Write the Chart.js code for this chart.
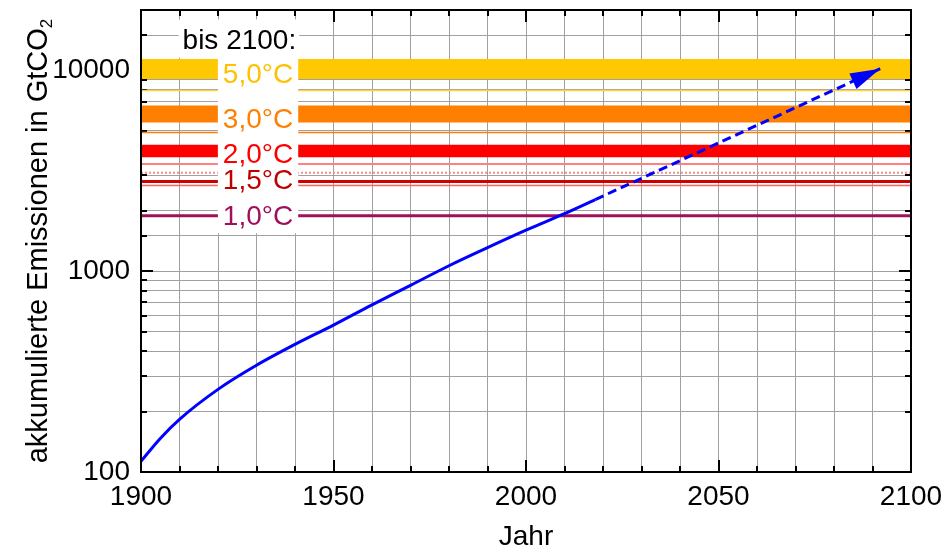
<!DOCTYPE html>
<html>
<head>
<meta charset="utf-8">
<script src="https://cdn.jsdelivr.net/npm/chart.js@4"></script>
<style>
  body { margin: 0; background: #fff; }
  canvas { display: block; }
</style>
</head>
<body>
<canvas id="emissionsChart" width="948" height="552"></canvas>
<script>
// historische kumulierte Emissionen (GtCO2)
const histYears = [1900, 1905, 1910, 1920, 1930, 1940, 1950, 1960, 1970, 1980, 1990, 2000, 2010, 2018];
const histEmissions = [113, 147, 183, 258, 340, 432, 539, 680, 850, 1065, 1310, 1600, 1936, 2274];

// Projektion (gestrichelter Pfeil)
const projYears = [2018, 2092];
const projEmissions = [2274, 10200];

// Budgets bis 2100: breite Bänder
const bandLow = [9060, 5510, 3690];
const bandHigh = [11400, 6680, 4270];
const bandColors = ["#FFC800", "#FF8000", "#FF0000"];

// dünne Linien
const lineLevels = [7950, 4910, 3420, 3090, 2800, 2670, 1890];

// Beschriftung
const tempLabels = ["5,0°C", "3,0°C", "2,0°C", "1,5°C", "1,0°C"];
const tempLabelLevels = [9660, 5800, 3860, 2870, 1900];
const tempColors = ["#FFC000", "#FF8000", "#FF0000", "#C00000", "#A0105A"];

const xMin = 1900, xMax = 2100;
const yMin = 100, yMax = 20000;

const FONT = "'Liberation Sans', Arial, sans-serif";

const flat = (v) => [{ x: xMin, y: v }, { x: xMax, y: v }];

const lineStyles = [
  { color: "#FFD040", width: 1.5 },
  { color: "#FF8000", width: 1.5 },
  { color: "#FF8080", width: 2 },
  { color: "#F09090", width: 2, dash: [2, 2] },
  { color: "#CC0000", width: 3 },
  { color: "#FF6060", width: 1.5 },
  { color: "#A0105A", width: 3 },
];

const datasets = [
  {
    data: histYears.map((yr, i) => ({ x: yr, y: histEmissions[i] })),
    borderColor: "#0000FF",
    borderWidth: 3,
    pointRadius: 0,
    cubicInterpolationMode: "monotone",
    fill: false,
  },
  {
    data: projYears.map((yr, i) => ({ x: yr, y: projEmissions[i] })),
    borderColor: "#0000FF",
    borderWidth: 3,
    borderDash: [9, 5],
    pointRadius: 0,
    fill: false,
  },
];

lineLevels.forEach((v, i) => {
  const s = lineStyles[i];
  datasets.push({
    data: flat(v),
    borderColor: s.color,
    borderWidth: s.width,
    borderDash: s.dash || [],
    pointRadius: 0,
    fill: false,
  });
});

bandHigh.forEach((v, i) => {
  datasets.push({
    data: flat(v),
    borderWidth: 0,
    borderColor: bandColors[i],
    backgroundColor: bandColors[i],
    pointRadius: 0,
    fill: { value: bandLow[i] },
  });
});

const isDecade = (v) => Math.abs(Math.log10(v) - Math.round(Math.log10(v))) < 1e-9;

const noPad = (s) => {
  s.paddingTop = 0;
  s.paddingBottom = 0;
  s.paddingLeft = 0;
  s.paddingRight = 0;
};

const tickMarks = {
  id: "tickMarks",
  beforeDatasetsDraw(chart) {
    const { ctx, chartArea: a, scales: { x, y } } = chart;
    ctx.save();
    ctx.strokeStyle = "#000";
    ctx.lineWidth = 2;
    ctx.beginPath();
    x.ticks.forEach((t) => {
      const px = Math.round(x.getPixelForValue(t.value));
      const len = t.value % 50 === 0 ? 12 : 6;
      ctx.moveTo(px, a.bottom);
      ctx.lineTo(px, a.bottom - len);
      ctx.moveTo(px, a.top);
      ctx.lineTo(px, a.top + len);
    });
    y.ticks.forEach((t) => {
      const py = Math.round(y.getPixelForValue(t.value));
      const len = isDecade(t.value) ? 12 : 6;
      ctx.moveTo(a.left, py);
      ctx.lineTo(a.left + len, py);
      ctx.moveTo(a.right, py);
      ctx.lineTo(a.right - len, py);
    });
    ctx.stroke();
    ctx.restore();
  },
};

const overlay = {
  id: "overlay",
  afterDatasetsDraw(chart) {
    const { ctx, chartArea: a, scales: { x, y } } = chart;
    ctx.save();

    // Pfeilspitze am Ende der Projektion
    const pts = chart.getDatasetMeta(1).data;
    const p1 = pts[pts.length - 2], p2 = pts[pts.length - 1];
    const ang = Math.atan2(p2.y - p1.y, p2.x - p1.x);
    ctx.save();
    ctx.translate(p2.x, p2.y);
    ctx.rotate(ang);
    ctx.fillStyle = "#0000FF";
    ctx.beginPath();
    ctx.moveTo(0, 0);
    ctx.lineTo(-30, -8.5);
    ctx.lineTo(-30, 8.5);
    ctx.closePath();
    ctx.fill();
    ctx.restore();

    // Beschriftungen mit weißem Hintergrund
    ctx.font = "28px " + FONT;
    const cx = x.getPixelForValue(1930.4);
    const w = Math.max(...tempLabels.map((t) => ctx.measureText(t).width));
    const bisY = y.getPixelForValue(14400);
    const bisText = "bis 2100:";
    const bisRight = cx + w / 2 + 3;
    const bisW = ctx.measureText(bisText).width;
    const lastY = y.getPixelForValue(tempLabelLevels[tempLabelLevels.length - 1]);

    ctx.fillStyle = "#fff";
    ctx.fillRect(bisRight - bisW - 4, bisY - 19, bisW + 7, 38);
    ctx.fillRect(cx - w / 2 - 5, bisY - 19, w + 10, lastY + 18 - (bisY - 19));

    ctx.textBaseline = "alphabetic";
    ctx.fillStyle = "#000";
    ctx.textAlign = "right";
    ctx.fillText(bisText, bisRight, bisY + 10);

    ctx.textAlign = "center";
    tempLabels.forEach((t, i) => {
      ctx.fillStyle = tempColors[i];
      ctx.fillText(t, cx, y.getPixelForValue(tempLabelLevels[i]) + 10);
    });

    // Rahmen
    ctx.strokeStyle = "#000";
    ctx.lineWidth = 2;
    ctx.strokeRect(a.left, a.top, a.right - a.left, a.bottom - a.top);

    // y-Achsentitel mit Index
    const main = "akkumulierte Emissionen in GtCO";
    ctx.font = "29px " + FONT;
    const mw = ctx.measureText(main).width;
    ctx.font = "17px " + FONT;
    const sw = ctx.measureText("2").width;
    const total = mw + sw;
    ctx.translate(47, (a.top + a.bottom) / 2);
    ctx.rotate(-Math.PI / 2);
    ctx.fillStyle = "#000";
    ctx.textAlign = "left";
    ctx.font = "29px " + FONT;
    ctx.fillText(main, -total / 2, 0);
    ctx.font = "17px " + FONT;
    ctx.fillText("2", -total / 2 + mw, 5);
    ctx.restore();
  },
};

new Chart(document.getElementById("emissionsChart"), {
  type: "line",
  data: { datasets: datasets },
  options: {
    responsive: false,
    animation: false,
    layout: { padding: { left: 0, right: 37, top: 10, bottom: 0 } },
    plugins: {
      legend: { display: false },
      tooltip: { enabled: false },
    },
    scales: {
      x: {
        type: "linear",
        min: xMin,
        max: xMax,
        afterFit: (s) => { s.height = 80; noPad(s); },
        grid: { color: "#a0a0a0", lineWidth: 1, drawTicks: false },
        border: { display: false },
        ticks: {
          stepSize: 10,
          autoSkip: false,
          maxRotation: 0,
          padding: 8,
          color: "#000",
          font: { family: FONT, size: 28 },
          callback: (v) => (v % 50 === 0 ? String(v) : ""),
        },
        title: {
          display: true,
          text: "Jahr",
          color: "#000",
          font: { family: FONT, size: 28, lineHeight: 1 },
          padding: { top: 0, bottom: 1 },
        },
      },
      y: {
        type: "logarithmic",
        min: yMin,
        max: yMax,
        afterFit: (s) => { s.width = 141; noPad(s); },
        grid: { color: "#a0a0a0", lineWidth: 1, drawTicks: false },
        border: { display: false },
        ticks: {
          autoSkip: false,
          padding: 11,
          color: "#000",
          font: { family: FONT, size: 28 },
          callback: (v) => (isDecade(v) ? String(v) : ""),
        },
      },
    },
  },
  plugins: [tickMarks, overlay],
});
</script>
</body>
</html>
